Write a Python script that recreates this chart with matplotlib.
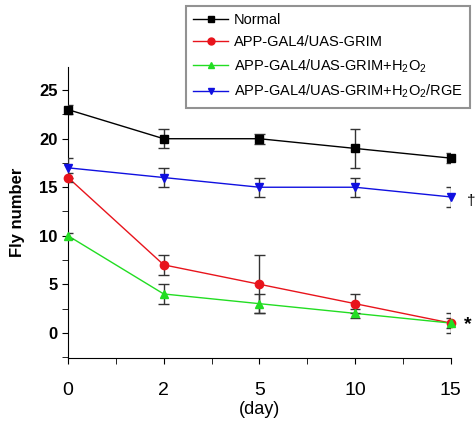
import numpy as np
import matplotlib.pyplot as plt
from matplotlib.ticker import MultipleLocator
from matplotlib.lines import Line2D

# datos
dias = ["0", "2", "5", "10", "15"]

normal = [23, 20, 20, 19, 18]
normal_err = [0.5, 1, 0.5, 2, 0.5]

grim = [16, 7, 5, 3, 1]
grim_err = [0.5, 1, 3, 1, 1]

grim_h2o2 = [10, 4, 3, 2, 1]
grim_h2o2_err = [0.3, 1, 1, 0.5, 0.5]

grim_rge = [17, 16, 15, 15, 14]
grim_rge_err = [1, 1, 1, 1, 1]

etiquetas = ["Normal",
             "APP-GAL4/UAS-GRIM",
             "APP-GAL4/UAS-GRIM+H$_2$O$_2$",
             "APP-GAL4/UAS-GRIM+H$_2$O$_2$/RGE"]

plt.rcParams['font.family'] = ['Liberation Sans', 'DejaVu Sans']
plt.rcParams['mathtext.fontset'] = 'custom'
plt.rcParams['mathtext.rm'] = 'Liberation Sans'

fig = plt.figure(figsize=(4.77, 4.29), dpi=100)
ax = fig.add_axes([0.1426, 0.1655, 0.8024, 0.6785])

x = np.arange(len(dias))
media_cap = 0.055   # medio ancho de las tapas, en unidades de x

series = [
    (normal, normal_err, "black", "s"),
    (grim, grim_err, "#e8141c", "o"),
    (grim_h2o2, grim_h2o2_err, "#22dd22", "^"),
    (grim_rge, grim_rge_err, "#1010e0", "v"),
]

handles = []
for (y, e, c, m), lab in zip(series, etiquetas):
    y = np.array(y, dtype=float)
    e = np.array(e, dtype=float)
    ax.plot(x, y, color=c, lw=1, zorder=2)
    # barras de error con tapas recortadas en los bordes
    ax.vlines(x, y - e, y + e, color="#333333", lw=1, zorder=3)
    ax.hlines(y - e, x - media_cap, x + media_cap, color="#333333", lw=1, zorder=3)
    ax.hlines(y + e, x - media_cap, x + media_cap, color="#333333", lw=1, zorder=3)
    # marcadores sin recortar
    ax.plot(x, y, linestyle="none", marker=m, markersize=6, color=c,
            clip_on=False, zorder=4)
    handles.append(Line2D([], [], color=c, lw=1, marker=m, markersize=5))

ax.set_xlim(0, 4)
ax.set_ylim(-2.6, 27.4)
ax.set_xticks(x)
ax.set_xticklabels(dias, fontsize=14)
ax.xaxis.set_minor_locator(MultipleLocator(0.5))
ax.yaxis.set_major_locator(MultipleLocator(5))
ax.yaxis.set_minor_locator(MultipleLocator(2.5))
for t in ax.get_yticklabels():
    t.set_fontweight("bold")
    t.set_fontsize(12)

ax.tick_params(axis="x", which="both", direction="out", length=4, pad=13)
ax.tick_params(axis="y", which="both", direction="out", length=4)
ax.spines["top"].set_visible(False)
ax.spines["right"].set_visible(False)

ax.set_xlabel("(day)", fontsize=13)
ax.xaxis.set_label_coords(0.5, -0.148)
ax.set_ylabel("Fly number", fontsize=12, fontweight="bold", labelpad=10)

ax.text(4.21, 13.6, "\u2020", fontsize=11, va="center", ha="center", clip_on=False)
ax.text(4.18, 0.8, "*", fontsize=14, va="center", ha="center",
        fontweight="bold", clip_on=False)

leg = fig.legend(handles, etiquetas, loc="upper right",
                 bbox_to_anchor=(0.995, 0.997),
                 fontsize=10.5, handlelength=2.4, handletextpad=0.4,
                 borderpad=0.5, labelspacing=0.55, fancybox=False,
                 frameon=True, borderaxespad=0.3)
leg.get_frame().set_edgecolor("#777777")
leg.get_frame().set_linewidth(1.5)

fig.savefig("out.png", dpi=100)
